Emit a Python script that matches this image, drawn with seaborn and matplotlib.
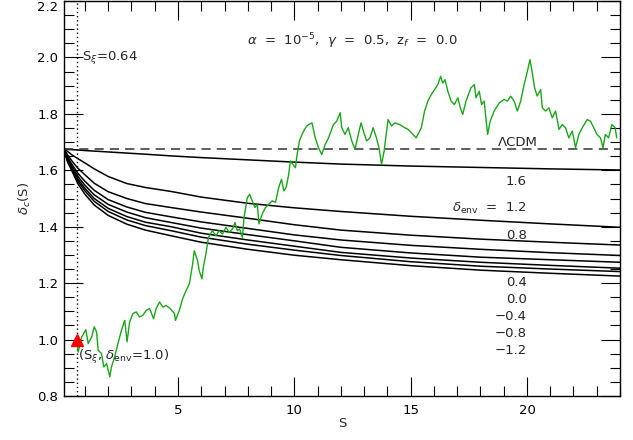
import numpy as np
import pandas as pd
import matplotlib
matplotlib.use("Agg")
import matplotlib.pyplot as plt
from matplotlib.ticker import MultipleLocator, FormatStrFormatter
import seaborn as sns

# barrier curves delta_c(S) for several delta_env
s_grid = [0.1, 0.25, 0.45, 0.7, 1.0, 1.4, 2.0, 2.8, 3.6, 4.7, 6.0, 8.0, 10.0, 12.0, 15.0, 18.0, 21.0, 24.0]
env_labels = ["1.6", "1.2", "0.8", "0.4", "0.0", "-0.4", "-0.8", "-1.2"]
dc_p16 = [1.675, 1.674, 1.673, 1.672, 1.670, 1.668, 1.665, 1.661, 1.657, 1.651, 1.645, 1.637, 1.629, 1.622, 1.615, 1.610, 1.605, 1.601]
dc_p12 = [1.675, 1.667, 1.654, 1.641, 1.626, 1.605, 1.578, 1.553, 1.539, 1.525, 1.505, 1.483, 1.467, 1.454, 1.437, 1.423, 1.410, 1.398]
dc_p08 = [1.675, 1.655, 1.632, 1.607, 1.584, 1.554, 1.524, 1.500, 1.482, 1.468, 1.452, 1.430, 1.407, 1.388, 1.370, 1.356, 1.345, 1.335]
dc_p04 = [1.675, 1.647, 1.620, 1.589, 1.561, 1.529, 1.496, 1.470, 1.451, 1.435, 1.417, 1.394, 1.371, 1.353, 1.334, 1.320, 1.308, 1.298]
dc_p00 = [1.675, 1.642, 1.613, 1.578, 1.547, 1.513, 1.479, 1.452, 1.432, 1.415, 1.395, 1.372, 1.350, 1.327, 1.307, 1.292, 1.283, 1.274]
dc_m04 = [1.675, 1.638, 1.607, 1.569, 1.536, 1.500, 1.465, 1.436, 1.416, 1.400, 1.377, 1.353, 1.331, 1.309, 1.289, 1.274, 1.263, 1.253]
dc_m08 = [1.675, 1.634, 1.602, 1.561, 1.527, 1.490, 1.454, 1.424, 1.404, 1.386, 1.363, 1.338, 1.317, 1.298, 1.276, 1.260, 1.250, 1.241]
dc_m12 = [1.675, 1.630, 1.596, 1.552, 1.515, 1.477, 1.440, 1.409, 1.388, 1.368, 1.345, 1.320, 1.299, 1.283, 1.262, 1.246, 1.235, 1.225]
dc_lcdm = 1.675

# random walk (green)
walk_s = [0.66, 0.71, 0.86, 1.04, 1.14, 1.29, 1.40, 1.50, 1.57, 1.71, 1.81, 1.93, 2.07, 2.14, 2.28, 2.42,
          2.57, 2.71, 2.81, 2.92, 3.06, 3.21, 3.35, 3.49, 3.64, 3.78, 3.95, 4.06, 4.21, 4.35, 4.49, 4.66,
          4.85, 4.89, 5.06, 5.20, 5.35, 5.49, 5.63, 5.70, 5.84, 5.91, 6.03, 6.09, 6.20, 6.31, 6.48, 6.63,
          6.77, 6.91, 7.06, 7.20, 7.34, 7.45, 7.55, 7.65, 7.77, 7.84, 7.98, 8.08, 8.19, 8.31, 8.41, 8.48,
          8.62, 8.76, 8.91, 9.05, 9.19, 9.33, 9.45, 9.55, 9.65, 9.76, 9.83, 9.94, 10.05, 10.12, 10.22, 10.33,
          10.44, 10.54, 10.62, 10.76, 10.90, 11.04, 11.18, 11.33, 11.47, 11.68, 11.82, 11.97, 12.04, 12.18,
          12.32, 12.47, 12.61, 12.75, 12.87, 12.97, 13.11, 13.25, 13.39, 13.53, 13.64, 13.75, 13.86, 14.03,
          14.18, 14.32, 14.53, 14.75, 14.89, 15.10, 15.24, 15.46, 15.60, 15.74, 15.89, 16.03, 16.17, 16.29,
          16.38, 16.48, 16.60, 16.74, 16.88, 17.03, 17.14, 17.24, 17.38, 17.59, 17.74, 17.81, 17.95, 18.05,
          18.16, 18.31, 18.42, 18.59, 18.81, 19.02, 19.16, 19.30, 19.45, 19.59, 19.73, 19.88, 20.02, 20.13,
          20.23, 20.33, 20.44, 20.59, 20.66, 20.80, 20.94, 21.09, 21.23, 21.38, 21.52, 21.66, 21.80, 21.95,
          22.09, 22.23, 22.38, 22.59, 22.73, 22.87, 23.01, 23.16, 23.27, 23.37, 23.51, 23.65, 23.79, 23.86]
walk_d = [0.990, 0.956, 1.009, 1.035, 0.986, 1.009, 1.045, 1.027, 0.962, 0.951, 0.903, 0.915, 0.868, 0.903, 0.939, 0.986,
          1.033, 1.068, 0.992, 1.062, 1.092, 1.098, 1.080, 1.086, 1.104, 1.110, 1.074, 1.110, 1.133, 1.115, 1.121, 1.110,
          1.092, 1.068, 1.104, 1.145, 1.174, 1.198, 1.268, 1.315, 1.280, 1.245, 1.215, 1.256, 1.304, 1.362, 1.386, 1.368,
          1.386, 1.374, 1.398, 1.380, 1.392, 1.415, 1.386, 1.392, 1.362, 1.433, 1.503, 1.515, 1.492, 1.468, 1.480, 1.410,
          1.445, 1.468, 1.480, 1.492, 1.486, 1.539, 1.568, 1.527, 1.539, 1.586, 1.633, 1.621, 1.609, 1.656, 1.704, 1.727,
          1.745, 1.757, 1.762, 1.768, 1.715, 1.680, 1.656, 1.692, 1.715, 1.762, 1.774, 1.804, 1.751, 1.727,
          1.751, 1.704, 1.674, 1.727, 1.768, 1.739, 1.704, 1.715, 1.751, 1.715, 1.680, 1.621, 1.668, 1.780,
          1.757, 1.768, 1.762, 1.751, 1.745, 1.727, 1.715, 1.751, 1.810, 1.845, 1.869, 1.886, 1.904, 1.933,
          1.909, 1.921, 1.880, 1.845, 1.833, 1.857, 1.821, 1.798, 1.845, 1.892, 1.904, 1.857, 1.880, 1.833,
          1.845, 1.727, 1.774, 1.810, 1.839, 1.851, 1.845, 1.863, 1.845, 1.810, 1.845, 1.904, 1.951, 1.992,
          1.945, 1.892, 1.863, 1.886, 1.821, 1.810, 1.821, 1.786, 1.810, 1.745, 1.762, 1.751, 1.715, 1.739,
          1.680, 1.727, 1.751, 1.780, 1.774, 1.751, 1.727, 1.715, 1.680, 1.727, 1.715, 1.762, 1.751, 1.715]

s_xi = 0.64
d_start = 1.0

sns.set_theme(style="ticks")
plt.rcParams["font.family"] = ["DejaVu Sans"]
plt.rcParams["mathtext.fontset"] = "dejavusans"

fig = plt.figure(figsize=(6.33, 4.40), dpi=100)
ax = fig.add_axes([64 / 633, 1 - 396 / 440, 556 / 633, 395 / 440])

curves = [dc_p16, dc_p12, dc_p08, dc_p04, dc_p00, dc_m04, dc_m08, dc_m12]
for lab, vals in zip(env_labels, curves):
    df = pd.DataFrame({"S": s_grid, "dc": vals})
    sns.lineplot(data=df, x="S", y="dc", color="black", lw=1.1, ax=ax, estimator=None, sort=False)

ax.axhline(dc_lcdm, color="#333333", lw=1.1, ls=(0, (6, 4)))
ax.axvline(s_xi, color="black", lw=1.0, ls=(0, (1, 2)))

walk = pd.DataFrame({"S": walk_s, "d": walk_d})
sns.lineplot(data=walk, x="S", y="d", color="#1aa51a", lw=1.0, ax=ax, estimator=None, sort=False)

ax.plot([s_xi], [d_start], marker="^", color="red", ms=9, ls="none", clip_on=False)

ax.set_xlim(0.1, 24)
ax.set_ylim(0.8, 2.2)
ax.xaxis.set_major_locator(MultipleLocator(5))
ax.xaxis.set_minor_locator(MultipleLocator(1))
ax.yaxis.set_major_locator(MultipleLocator(0.2))
ax.yaxis.set_minor_locator(MultipleLocator(0.05))
ax.yaxis.set_major_formatter(FormatStrFormatter("%.1f"))
ax.tick_params(which="both", direction="in", top=True, right=True, width=0.8, color="black",
               labelsize=9.5, labelcolor="black")
ax.tick_params(which="major", length=14)
ax.tick_params(axis="y", which="major", pad=4)
ax.tick_params(axis="x", which="major", pad=6)
ax.tick_params(which="minor", length=7)
for sp in ax.spines.values():
    sp.set_visible(True)
    sp.set_linewidth(1.0)
    sp.set_color("black")

ax.set_xlabel("S", fontsize=9.5, labelpad=0)
ax.set_ylabel(r"$\delta_c$(S)", fontsize=9.5, labelpad=3)

# keep the top tick label inside the figure, hanging below the top edge
fig.canvas.draw()
for tl in ax.get_yticklabels():
    if tl.get_text() == "2.2":
        tl.set_va("top")

ax.text(7.97, 2.057, r"$\alpha$  =  10$^{-5}$,  $\gamma$  =  0.5,  z$_f$  =  0.0", fontsize=9.5, va="center")
ax.text(0.87, 2.0, r"S$_\xi$=0.64", fontsize=9.5, va="center")
ax.text(0.72, 0.94, r"(S$_\xi$, $\delta_{\rm env}$=1.0)", fontsize=9.5, va="center")
ax.text(20.45, 1.70, "ΛCDM", fontsize=9.5, va="center", ha="right")
env_y = [1.559, 1.463, 1.368, 1.202, 1.142, 1.082, 1.022, 0.962]
for lab, y in zip(env_labels, env_y):
    txt = lab.replace("-", "\u2212")
    if lab == "1.2":
        txt = r"$\delta_{\rm env}$  =  " + txt
    ax.text(20.0, y, txt, fontsize=9.5, va="center", ha="right")

fig.savefig("out.png", dpi=100)
